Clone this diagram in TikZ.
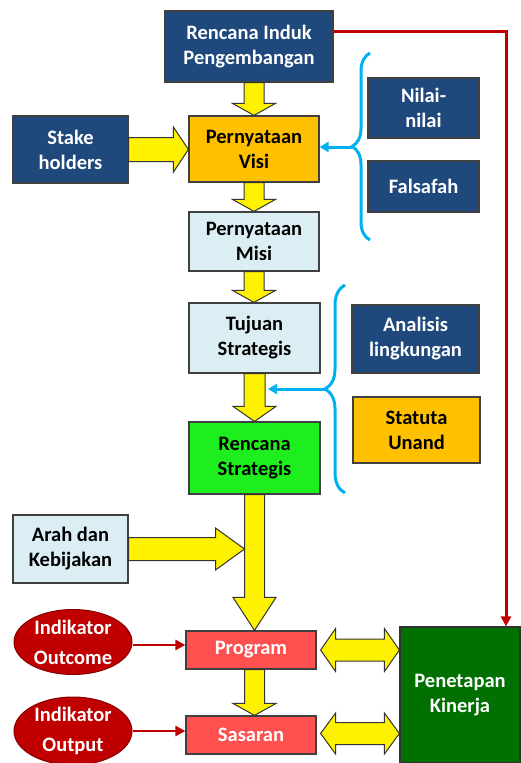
\documentclass[tikz,border=0pt]{standalone}
\usepackage{fontspec}
\setmainfont{Carlito}
\usetikzlibrary{shapes.geometric,decorations.pathreplacing,arrows.meta,calc}
\definecolor{darkblue}{HTML}{1F497D}
\definecolor{lightblue}{HTML}{DBEEF4}
\definecolor{gold}{HTML}{FFC000}
\definecolor{brightgreen}{HTML}{1EEE1E}
\definecolor{salmon}{HTML}{FF5050}
\definecolor{darkred}{HTML}{C00000}
\definecolor{darkgreen}{HTML}{007000}
\definecolor{cyanline}{HTML}{00B0F0}
% yellow block arrows: start, end, shaft half width, head half width, head length
\newcommand\ydown[5]{\filldraw[yarrow] let \p1=#1, \p2=#2 in (\x1-#3,\y1) -- (\x1+#3,\y1) -- (\x1+#3,\y2+#5) -- (\x1+#4,\y2+#5) -- (\x1,\y2) -- (\x1-#4,\y2+#5) -- (\x1-#3,\y2+#5) -- cycle;}
\newcommand\yright[5]{\filldraw[yarrow] let \p1=#1, \p2=#2 in (\x1,\y1-#3) -- (\x2-#5,\y1-#3) -- (\x2-#5,\y1-#4) -- (\x2,\y1) -- (\x2-#5,\y1+#4) -- (\x2-#5,\y1+#3) -- (\x1,\y1+#3) -- cycle;}
\newcommand\ydouble[5]{\filldraw[yarrow] let \p1=#1, \p2=#2 in (\x1,\y1) -- (\x1+#5,\y1+#4) -- (\x1+#5,\y1+#3) -- (\x2-#5,\y1+#3) -- (\x2-#5,\y1+#4) -- (\x2,\y1) -- (\x2-#5,\y1-#4) -- (\x2-#5,\y1-#3) -- (\x1+#5,\y1-#3) -- (\x1+#5,\y1-#4) -- cycle;}
\begin{document}
\begin{tikzpicture}[x=1pt,y=-1pt,
  box/.style 2 args={draw=black!75, line width=1.2pt, minimum width=#1, minimum height=#2,
    inner sep=0pt, align=center, font=\bfseries\fontsize{20.5}{25}\selectfont},
  blue/.style={fill=darkblue, text=white},
  pale/.style={fill=lightblue, text=black},
  yarrow/.style={fill=yellow, draw=black!80, line width=1pt, line join=miter},
  indik/.style={ellipse, draw=darkred!70!black, line width=1pt, fill=darkred, text=white,
    minimum width=118pt, minimum height=65pt, inner sep=0pt, align=center,
    font=\bfseries\fontsize{20.5}{30}\selectfont},
  redline/.style={draw=darkred, line width=3pt, -{Triangle[length=10pt,width=10pt]}},
  brace/.style={draw=cyanline, line width=3pt, decorate, decoration={brace, amplitude=#1}},
  bluearr/.style={draw=cyanline, line width=3pt, -{Triangle[length=9pt,width=10pt]}}]
\useasboundingbox (0,0) rectangle (520,763);

\node[box={168pt}{71pt}, blue] (rip) at (249,46.5) {Rencana Induk\\Pengembangan};
\node[box={115pt}{67pt}, blue] (stake) at (70.5,149.5) {Stake\\holders};
\node[box={130pt}{66pt}, fill=gold] (visi) at (254,149) {Pernyataan\\Visi};
\node[box={111pt}{60pt}, blue] (nilai) at (423.5,108) {Nilai-\\nilai};
\node[box={111pt}{51pt}, blue] (falsafah) at (423.5,186.5) {Falsafah};
\node[box={130pt}{59pt}, pale] (misi) at (254,241.5) {Pernyataan\\Misi};
\node[box={131pt}{70pt}, pale] (tujuan) at (254.5,338) {Tujuan\\Strategis};
\node[box={127pt}{68pt}, blue] (analisis) at (415.5,339) {Analisis\\lingkungan};
\node[box={127pt}{66pt}, fill=gold] (statuta) at (416.5,430) {Statuta\\Unand};
\node[box={131pt}{72pt}, fill=brightgreen] (renstra) at (254.5,458) {Rencana\\Strategis};
\node[box={115pt}{68pt}, pale] (arah) at (70.5,549) {Arah dan\\Kebijakan};
\node[indik] (outcome) at (73,642) {Indikator\\Outcome};
\node[indik, minimum height=68pt] (output) at (73,731) {Indikator\\Output};
\node[box={130pt}{38pt}, fill=salmon, text=white] (program) at (251,650) {Program};
\node[box={130pt}{38pt}, fill=salmon, text=white] (sasaran) at (251,735) {Sasaran};
\node[box={120pt}{136pt}, fill=darkgreen, text=white, draw=black!80] (kinerja) at (460,695) {Penetapan\\Kinerja};

\ydown{(rip.south -| visi.north)}{(visi.north)}{10pt}{21.5pt}{12pt}
\ydown{(visi.south)}{(misi.north)}{10pt}{21.5pt}{12pt}
\ydown{(misi.south)}{(tujuan.north)}{10pt}{21.5pt}{12pt}
\ydown{(tujuan.south)}{(renstra.north)}{10.5pt}{21.5pt}{15pt}
\ydown{(renstra.south)}{(program.north -| renstra.south)}{10pt}{21.5pt}{33pt}
\ydown{(program.south -| renstra.south)}{(sasaran.north -| renstra.south)}{10pt}{21.5pt}{12pt}
\yright{(stake.east)}{(visi.west)}{12pt}{22.5pt}{15pt}
\coordinate (join) at ([xshift=-10pt]renstra.south |- arah.east);
\yright{(arah.east)}{(join)}{11.5pt}{21pt}{29pt}
\ydouble{([xshift=4pt]program.east)}{(program.east -| kinerja.west)}{11pt}{21.5pt}{15pt}
\ydouble{([xshift=4pt, yshift=1.5pt]sasaran.east)}{([yshift=1.5pt]sasaran.east -| kinerja.west)}{11pt}{20.5pt}{15pt}

\draw[brace=18pt] (370,240) -- (370,53);
\coordinate (tip1) at (352,147);
\draw[bluearr] (tip1) -- (visi.east |- tip1);
\draw[brace=20pt] (345,493) -- (345,285);
\coordinate (tip2) at (325,389);
\coordinate (shaft) at (268,389);
\draw[bluearr] (tip2) -- (shaft);

\draw[redline] ([yshift=15.5pt]rip.east) -| ([xshift=46pt]kinerja.north);
\draw[redline, line width=2.5pt] ([yshift=-3pt]outcome.east) -- ([yshift=-3pt]outcome.east -| program.west);
\draw[redline, line width=2.5pt] (output.east) -- (output.east -| sasaran.west);
\end{tikzpicture}
\end{document}
